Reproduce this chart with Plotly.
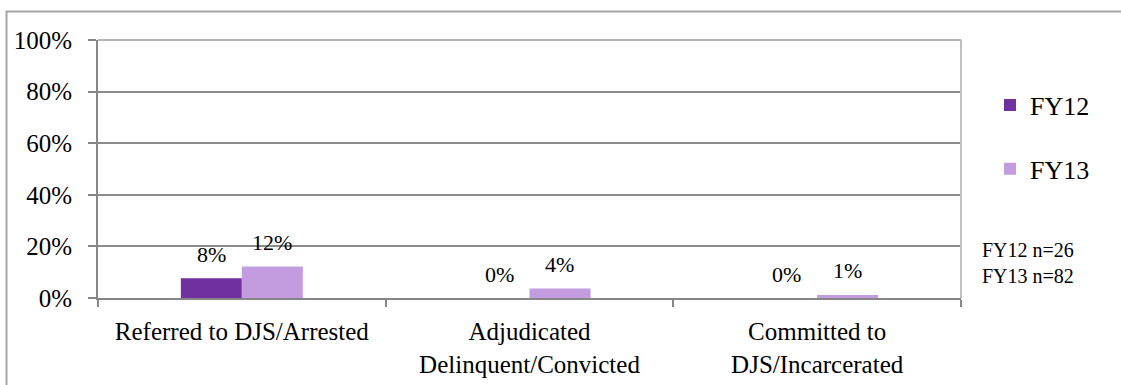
import plotly.graph_objects as go

# Outcome categories and the share of youth in each fiscal year
categories = ["Referred to DJS/Arrested",
              "Adjudicated<br>Delinquent/Convicted",
              "Committed to<br>DJS/Incarcerated"]
fy12 = [0.077, 0.0, 0.0]
fy13 = [0.122, 0.037, 0.012]
series_names = ["FY12", "FY13"]
series_colors = ["#7030a0", "#c39bdf"]
y_ticks = [0, 0.2, 0.4, 0.6, 0.8, 1.0]
y_tick_labels = ["0%", "20%", "40%", "60%", "80%", "100%"]
sample_note = "FY12 n=26<br>FY13 n=82"

FONT = "Liberation Serif, Times New Roman, serif"
W, H = 1121, 385
ML, MR, MT, MB = 98, 160, 40, 87
PW, PH = W - ML - MR, H - MT - MB

fig = go.Figure()
for i, (name, vals) in enumerate(zip(series_names, [fy12, fy13])):
    fig.add_trace(go.Bar(
        x=categories, y=vals, name=name,
        marker=dict(color=series_colors[i], line=dict(width=0)),
        legendgroup=name,
    ))

# value labels above each bar
bar_px = PW / len(categories) * (1 - 0.576) / 2
annotations = []
for i, vals in enumerate([fy12, fy13]):
    offset = (i - 0.5) * bar_px
    for cat, v in zip(categories, vals):
        annotations.append(dict(
            x=cat, y=v, xref="x", yref="y", text=f"{round(v * 100):.0f}%",
            showarrow=False, xshift=offset, yshift=24, yanchor="middle",
            font=dict(family=FONT, size=22, color="#000000"),
        ))

annotations.append(dict(
    x=(980 - ML) / PW, y=1 - (263 - MT) / PH, xref="paper", yref="paper",
    text=sample_note, showarrow=False, xanchor="left", yanchor="middle",
    align="left", font=dict(family=FONT, size=20, color="#000000"),
))

shapes = [
    # chart frame
    dict(type="rect", xref="paper", yref="paper",
         x0=(6.5 - ML) / PW, x1=(W + 10 - ML) / PW,
         y0=-(MB + 10) / PH, y1=1 + (MT - 11.5) / PH,
         line=dict(color="#a6a6a6", width=2), layer="below"),
    # plot area right edge and top
    dict(type="line", xref="paper", yref="paper", x0=1, x1=1, y0=0, y1=1,
         line=dict(color="#c0c0c0", width=2)),
    dict(type="line", xref="paper", yref="paper", x0=0, x1=1, y0=1, y1=1,
         line=dict(color="#b4b4b4", width=2)),
]

fig.update_layout(
    width=W, height=H,
    margin=dict(l=ML, r=MR, t=MT, b=MB, pad=0, autoexpand=False),
    paper_bgcolor="white", plot_bgcolor="white",
    barmode="group", bargap=0.576, bargroupgap=0,
    font=dict(family=FONT, size=22, color="#000000"),
    showlegend=True,
    legend=dict(
        x=(990 - ML) / PW, xanchor="left",
        y=1 - (137 - MT) / PH, yanchor="middle",
        font=dict(family=FONT, size=26, color="#000000"),
        tracegroupgap=27, bgcolor="rgba(0,0,0,0)",
        itemclick=False,
    ),
    annotations=annotations,
    shapes=shapes,
    xaxis=dict(
        type="category", showline=True, linecolor="#868686", linewidth=2,
        ticks="outside", tickson="boundaries", ticklen=7, tickwidth=2,
        tickcolor="#868686", showgrid=False, ticklabelstandoff=10,
        automargin=False,
        tickfont=dict(family=FONT, size=25, color="#000000"),
    ),
    yaxis=dict(
        range=[0, 1], tickvals=y_ticks, ticktext=y_tick_labels,
        showline=True, linecolor="#868686", linewidth=2,
        ticks="outside", ticklen=8, tickwidth=2, tickcolor="#868686",
        showgrid=True, gridcolor="#8c8c8c", gridwidth=2,
        zeroline=False, ticklabelstandoff=11, automargin=False,
        tickfont=dict(family=FONT, size=25, color="#000000"),
    ),
)

fig.write_html("out.html")
